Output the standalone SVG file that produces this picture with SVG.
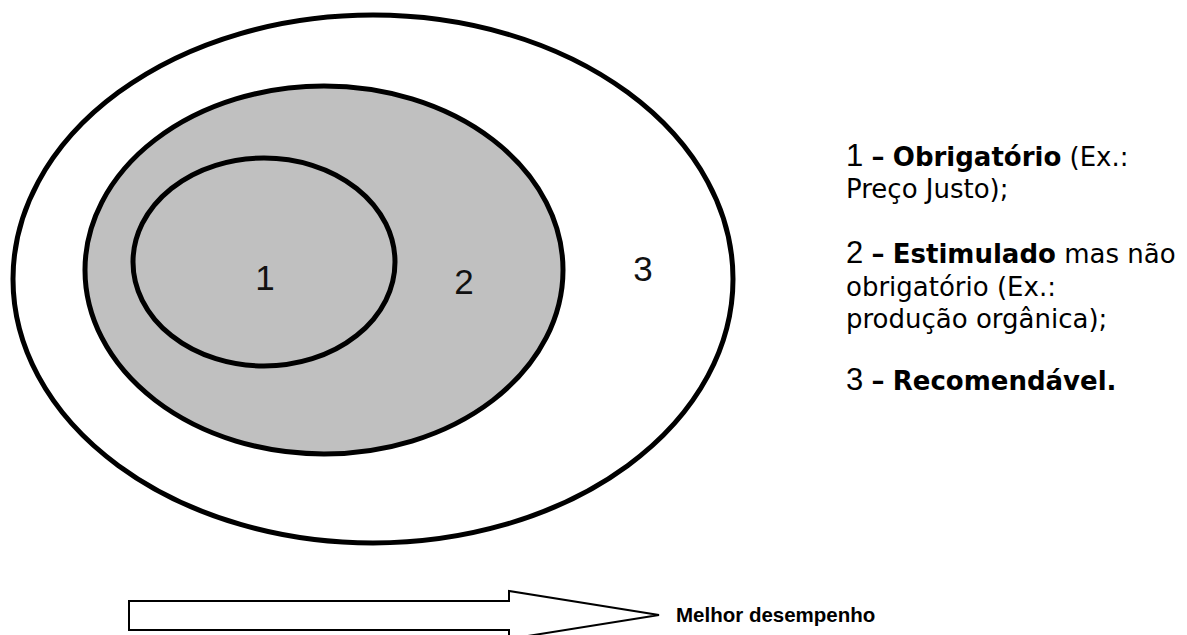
<svg xmlns="http://www.w3.org/2000/svg" width="1187" height="635" viewBox="0 0 1187 635">
  <style>
    .ring { stroke: #000; stroke-width: 5; }
    .num { font-family: "Liberation Sans", Arial, sans-serif; font-size: 35px; fill: #111; text-anchor: middle; }
    .legend { font-family: "DejaVu Sans", Verdana, sans-serif; font-size: 26px; fill: #000; }
    .legend .big { font-family: "Liberation Sans", Arial, sans-serif; font-size: 31px; }
    .legend .b { font-weight: bold; }
    .caption { font-family: "Liberation Sans", Arial, sans-serif; font-size: 20.5px; font-weight: bold; fill: #000; }
  </style>

  <!-- nested requirement levels -->
  <g id="level-3">
    <ellipse class="ring" cx="373" cy="279" rx="360" ry="264" fill="#fff"/>
    <text class="num" x="643" y="281">3</text>
  </g>
  <g id="level-2">
    <ellipse class="ring" cx="324" cy="270" rx="239" ry="184" fill="#c0c0c0"/>
    <text class="num" x="464" y="294">2</text>
  </g>
  <g id="level-1">
    <ellipse class="ring" cx="264" cy="262" rx="131" ry="104" fill="#c0c0c0"/>
    <text class="num" x="265" y="290">1</text>
  </g>

  <!-- legend -->
  <g id="legend" class="legend">
    <text x="846" y="166"><tspan class="big">1</tspan> <tspan class="b">–</tspan> <tspan class="b">Obrigatório</tspan> (Ex.:</text>
    <text x="846" y="198">Preço Justo);</text>
    <text x="846" y="263"><tspan class="big">2</tspan> <tspan class="b">–</tspan> <tspan class="b">Estimulado</tspan> mas não</text>
    <text x="846" y="296">obrigatório (Ex.:</text>
    <text x="846" y="328">produção orgânica);</text>
    <text x="846" y="390"><tspan class="big">3</tspan> <tspan class="b">–</tspan> <tspan class="b">Recomendável.</tspan></text>
  </g>

  <!-- direction of better performance -->
  <g id="connectors">
    <polygon points="129,601 509,601 509,591 659,615 509,639 509,630 129,630" fill="#fff" stroke="#000" stroke-width="2"/>
  </g>
  <g id="caption">
    <text class="caption" x="676" y="622">Melhor desempenho</text>
  </g>
</svg>
